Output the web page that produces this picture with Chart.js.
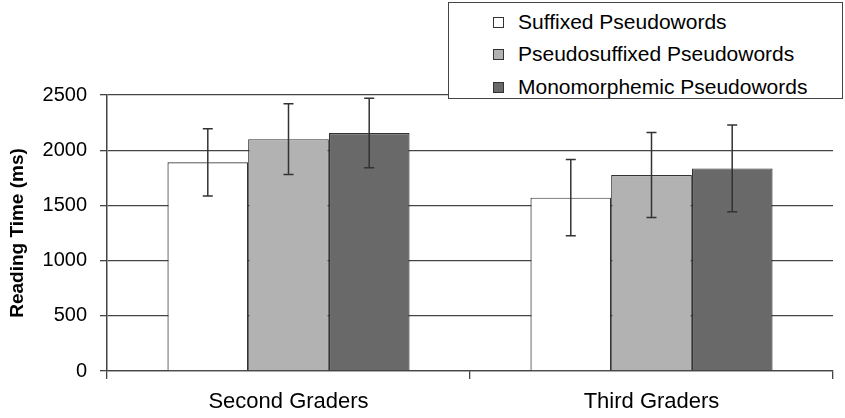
<!DOCTYPE html>
<html lang="en">
<head>
<meta charset="utf-8">
<title>Reading Time</title>
<script src="https://cdn.jsdelivr.net/npm/chart.js@4.4.0/dist/chart.umd.min.js"></script>
<style>
  body { margin: 0; background: #fff; }
  #wrap { position: relative; width: 845px; height: 418px; }
  #legend {
    position: absolute; left: 448px; top: 2px; width: 395px; height: 97px;
    border: 1px solid #444; background: #fff; box-sizing: border-box;
    font-family: 'Liberation Sans', Arial, sans-serif; font-size: 21px; color: #000;
  }
  .item { position: absolute; left: 44px; height: 24px; line-height: 24px; white-space: nowrap; }
  .item span.box {
    display: inline-block; width: 9px; height: 9px; border: 1px solid #333;
    vertical-align: middle; margin-right: 14px; position: relative; top: -1px;
  }
</style>
</head>
<body>
<div id="wrap">
  <canvas id="chart" width="845" height="418"></canvas>
  <div id="legend"></div>
</div>
<script>
// data
var categories = ['Second Graders', 'Third Graders'];
var seriesNames = ['Suffixed Pseudowords', 'Pseudosuffixed Pseudowords', 'Monomorphemic Pseudowords'];
var suffixed = [1890, 1570];
var suffixedErr = [305, 345];
var pseudosuffixed = [2100, 1775];
var pseudosuffixedErr = [320, 385];
var monomorphemic = [2155, 1835];
var monomorphemicErr = [315, 393];
var yTicks = [0, 500, 1000, 1500, 2000, 2500];

var colors = ['#ffffff', '#b2b2b2', '#696969'];

// error bars drawn through the y scale
var errorBars = {
  id: 'errorBars',
  afterDatasetsDraw: function(chart) {
    var ctx = chart.ctx;
    var y = chart.scales.y;
    ctx.save();
    ctx.strokeStyle = '#333';
    ctx.lineWidth = 1.5;
    chart.data.datasets.forEach(function(ds, i) {
      var meta = chart.getDatasetMeta(i);
      meta.data.forEach(function(bar, j) {
        var v = ds.data[j], e = ds.errors[j];
        var top = y.getPixelForValue(v + e);
        var bot = y.getPixelForValue(v - e);
        ctx.beginPath();
        ctx.moveTo(bar.x, top); ctx.lineTo(bar.x, bot);
        ctx.moveTo(bar.x - 5, top); ctx.lineTo(bar.x + 5, top);
        ctx.moveTo(bar.x - 5, bot); ctx.lineTo(bar.x + 5, bot);
        ctx.stroke();
      });
    });
    ctx.restore();
  }
};

Chart.defaults.font.family = "'Liberation Sans', Arial, sans-serif";
Chart.defaults.color = '#000';

var chart = new Chart(document.getElementById('chart'), {
  type: 'bar',
  data: {
    labels: categories,
    datasets: [
      { label: seriesNames[0], data: suffixed, errors: suffixedErr, backgroundColor: colors[0] },
      { label: seriesNames[1], data: pseudosuffixed, errors: pseudosuffixedErr, backgroundColor: colors[1] },
      { label: seriesNames[2], data: monomorphemic, errors: monomorphemicErr, backgroundColor: colors[2] }
    ].map(function(d) {
      d.borderColor = '#333'; d.borderWidth = 1.2;
      d.categoryPercentage = 0.667; d.barPercentage = 1;
      return d;
    })
  },
  options: {
    responsive: false,
    animation: false,
    layout: { padding: { top: 95, right: 12, left: 0, bottom: 0 } },
    plugins: { legend: { display: false }, tooltip: { enabled: false } },
    scales: {
      x: {
        grid: { drawOnChartArea: false, drawTicks: true, tickLength: 8, color: '#444', lineWidth: 1.3 },
        border: { color: '#444', width: 1.3 },
        ticks: { font: { size: 22 }, padding: 10 },
        afterFit: function(s) { s.height = 47; }
      },
      y: {
        min: 0, max: 2500,
        afterBuildTicks: function(s) { s.ticks = yTicks.map(function(v) { return { value: v }; }); },
        grid: { color: '#444', lineWidth: 1.3, tickLength: 7 },
        border: { color: '#444', width: 1.5 },
        ticks: { font: { size: 20 }, padding: 13, callback: function(v) { return String(v); } },
        title: { display: true, text: 'Reading Time (ms)', font: { size: 19, weight: 'bold' }, padding: { top: 6, bottom: 0 } },
        afterFit: function(s) { s.width = 107; }
      }
    }
  },
  plugins: [errorBars]
});

// legend as HTML text
var legend = document.getElementById('legend');
var rowTops = [7, 39, 72];
seriesNames.forEach(function(name, i) {
  var row = document.createElement('div');
  row.className = 'item';
  row.style.top = rowTops[i] + 'px';
  var box = document.createElement('span');
  box.className = 'box';
  box.style.background = colors[i];
  row.appendChild(box);
  row.appendChild(document.createTextNode(name));
  legend.appendChild(row);
});
</script>
</body>
</html>
